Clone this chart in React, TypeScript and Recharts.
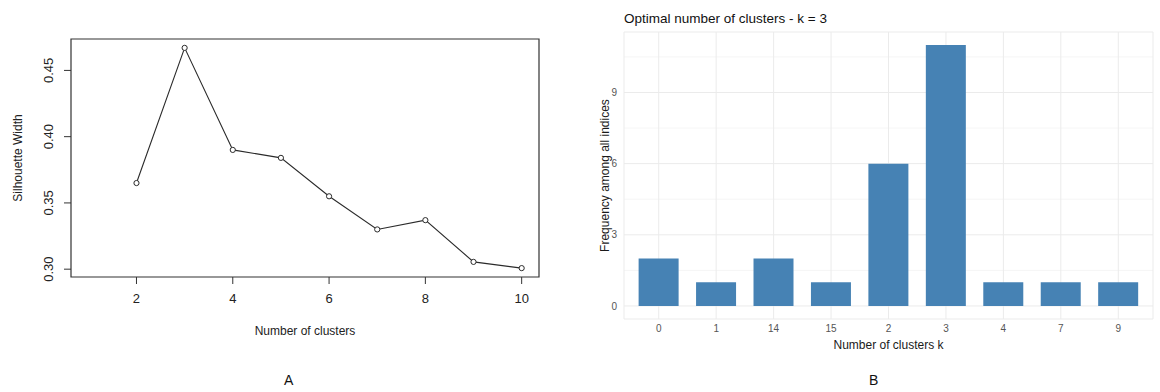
import React from 'react'
import {
  LineChart, Line, BarChart, Bar, XAxis, YAxis, CartesianGrid, ReferenceArea, Label,
} from 'recharts'

// silhouette width by number of clusters
const silClusters = [2, 3, 4, 5, 6, 7, 8, 9, 10]
const silWidth = [0.365, 0.467, 0.39, 0.384, 0.355, 0.33, 0.337, 0.3055, 0.3008]
const silTicksX = [2, 4, 6, 8, 10]
const silTicksY = [0.3, 0.35, 0.4, 0.45]

// how many indices vote for each k
const kLabels = ['0', '1', '14', '15', '2', '3', '4', '7', '9']
const kFreq = [2, 1, 2, 1, 6, 11, 1, 1, 1]
const freqTicks = [0, 3, 6, 9]
const freqMinor = [1.5, 4.5, 7.5, 10.5]

const silData = silClusters.map((k, i) => ({ k, sil: silWidth[i] }))
const freqData = kLabels.map((k, i) => ({ k, freq: kFreq[i] }))

const FONT = '"Liberation Sans", Arial, sans-serif'
const X_DOM: [number, number] = [0.64, 10.36]
const Y_DOM: [number, number] = [0.2941, 0.4737]

function RotTick(props: any) {
  const { x, y, payload } = props
  return (
    <text x={0} y={0} textAnchor="middle" dominantBaseline="central" fill="#222" fontSize={13} fontFamily={FONT}
      transform={`translate(${x - 14},${y}) rotate(-90)`}>
      {payload.value.toFixed(2)}
    </text>
  )
}

function OpenDot(props: any) {
  const { cx, cy } = props
  return <circle cx={cx} cy={cy} r={2.6} fill="#fff" stroke="#2a2a2a" strokeWidth={1} />
}

function SilhouettePlot() {
  return (
    <LineChart width={560} height={350} data={silData} margin={{ top: 39, right: 21, left: 0, bottom: 11 }}>
      <XAxis dataKey="k" type="number" domain={X_DOM} allowDataOverflow ticks={silTicksX}
        axisLine={false} tickSize={7} tickMargin={10} tickLine={{ stroke: '#333' }}
        tick={{ fill: '#222', fontSize: 13, fontFamily: FONT }} height={62}>
        <Label value="Number of clusters" position="insideBottom" offset={4} fill="#222" fontSize={12} fontFamily={FONT} />
      </XAxis>
      <YAxis type="number" domain={Y_DOM} allowDataOverflow ticks={silTicksY} width={71}
        axisLine={false} tickSize={7} tickMargin={2} tickLine={{ stroke: '#333' }} tick={<RotTick />}>
        <Label value="Silhouette Width" angle={-90} position="insideLeft" offset={18}
          style={{ textAnchor: 'middle' }} fill="#222" fontSize={12} fontFamily={FONT} />
      </YAxis>
      <ReferenceArea x1={X_DOM[0]} x2={X_DOM[1]} y1={Y_DOM[0]} y2={Y_DOM[1]} fill="none" fillOpacity={0}
        stroke="#333" strokeWidth={1.2} ifOverflow="visible" />
      <Line dataKey="sil" stroke="#2a2a2a" strokeWidth={1.1} dot={<OpenDot />} activeDot={false} isAnimationActive={false} />
    </LineChart>
  )
}

function FrequencyPlot() {
  return (
    <BarChart width={600} height={360} data={freqData} margin={{ top: 32, right: 7, left: 0, bottom: 8 }}
      barCategoryGap="15%">
      {/* minor grid first, then major grid, both under the bars */}
      <CartesianGrid stroke="#f2f2f2" strokeWidth={0.8} vertical={false} horizontalValues={freqMinor} />
      <CartesianGrid stroke="#ebebeb" strokeWidth={1} />
      <XAxis dataKey="k" axisLine={false} tickLine={false} tickSize={0} tickMargin={6} height={33}
        padding={{ left: 6, right: 6 }} tick={{ fill: '#555', fontSize: 10, fontFamily: FONT }}>
        <Label value="Number of clusters k" position="insideBottom" offset={3} fill="#1a1a1a" fontSize={12} fontFamily={FONT} />
      </XAxis>
      <YAxis type="number" domain={[-0.55, 11.55]} allowDataOverflow ticks={freqTicks} width={64}
        axisLine={false} tickLine={false} tickSize={0} tickMargin={7}
        tick={{ fill: '#555', fontSize: 10, fontFamily: FONT }}>
        <Label value="Frequency among all indices" angle={-90} position="insideLeft" offset={45}
          style={{ textAnchor: 'middle' }} fill="#1a1a1a" fontSize={12} fontFamily={FONT} />
      </YAxis>
      <Bar dataKey="freq" fill="#4682b4" isAnimationActive={false} />
    </BarChart>
  )
}

export default function App() {
  return (
    <div style={{ position: 'absolute', left: 0, top: 0, width: 1160, height: 392, background: '#fff', fontFamily: FONT }}>
      <div style={{ position: 'absolute', left: 0, top: 0 }}>
        <SilhouettePlot />
      </div>
      <div style={{ position: 'absolute', left: 560, top: 0 }}>
        <FrequencyPlot />
      </div>
      <div style={{ position: 'absolute', left: 624, top: 11, fontSize: 13.5, color: '#111', whiteSpace: 'nowrap' }}>
        Optimal number of clusters - k = 3
      </div>
      <div style={{ position: 'absolute', left: 284, top: 372, fontSize: 14, color: '#111' }}>A</div>
      <div style={{ position: 'absolute', left: 869, top: 372, fontSize: 14, color: '#111' }}>B</div>
    </div>
  )
}
